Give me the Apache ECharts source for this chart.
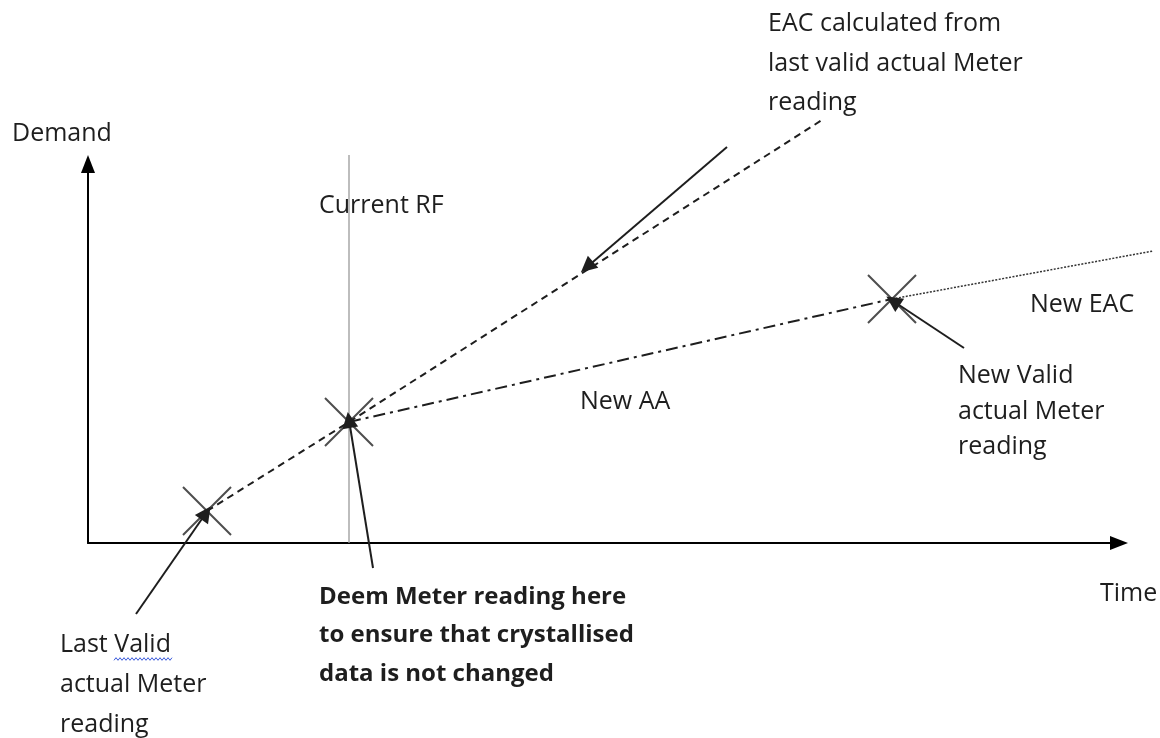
<!DOCTYPE html>
<html><head><meta charset="utf-8">
<script src="https://cdn.jsdelivr.net/npm/echarts@6/dist/echarts.min.js"></script>
<style>html,body{margin:0;padding:0;background:#fff}#c{width:1160px;height:738px}</style>
</head><body><div id="c"></div>
<script>
// ---- data (diagram units: time → right, demand → up) ----
const xMax = 1031;
const yMax = 379;
const readingPoints = [[119, 32], [261, 121], [804, 244]];
const eacLine = [[119, 32], [261, 121], [734, 423]];
const newAALine = [[261, 121], [804, 244]];
const newEACLine = [[804, 244], [1065, 292]];
const currentRFLine = [[261, 0], [261, 388]];
const pointerEAC = [[639, 396], [499, 276]];
const pointerNewValid = [[876, 195], [805, 242]];
const pointerDeem = [[285, -25], [261, 123]];
const pointerLastValid = [[48, -71], [118, 30]];

// ---- texts ----
const textDemand = ['Demand'];
const textTime = ['Time'];
const textCurrentRF = ['Current RF'];
const textEAC = ['EAC calculated from', 'last valid actual Meter', 'reading'];
const textNewEAC = ['New EAC'];
const textNewAA = ['New AA'];
const textNewValid = ['New Valid', 'actual Meter', 'reading'];
const textDeem = ['Deem Meter reading here', 'to ensure that crystallised', 'data is not changed'];
const textLastValid = ['Last Valid', 'actual Meter', 'reading'];

const FONT = '"Open Sans", Lato, sans-serif';
function block(lines, x, baseline, step, bold) {
  const fs = bold ? 24 : 25;
  return lines.map((t, i) => ({
    type: 'text', x: x, y: baseline + i * step - 8, silent: true,
    style: { text: t, fill: '#1e1e1e', font: (bold ? 'bold ' : '') + fs + 'px ' + FONT,
             verticalAlign: 'middle', align: 'left' }
  }));
}
function wavy(x0, x1, y) {
  const pts = [];
  for (let x = x0, k = 0; x <= x1; x += 2, k++) pts.push([x, y + (k % 2 ? -1.3 : 1.3)]);
  return { type: 'polyline', silent: true, shape: { points: pts }, style: { stroke: '#3b5bdb', lineWidth: 1, fill: null } };
}

const graphics = [].concat(
  block(textDemand, 12, 142, 0),
  block(textTime, 1100, 602, 0),
  block(textCurrentRF, 319, 214, 0),
  block(textEAC, 768, 32, 39.5),
  block(textNewEAC, 1030, 313, 0),
  block(textNewAA, 580, 410, 0),
  block(textNewValid, 958, 384, 35.5),
  block(textDeem, 319, 605, 38.5, true),
  block(textLastValid, 60, 653, 40),
  [wavy(114, 172, 659)]
);

const pathSeries = (d, style) => ({
  type: 'lines', coordinateSystem: 'cartesian2d', clip: false, silent: true, polyline: true,
  symbol: 'none', lineStyle: Object.assign({ opacity: 1 }, style),
  data: [{ coords: d }]
});
const pointerSeries = (d) => ({
  type: 'lines', coordinateSystem: 'cartesian2d', clip: false, silent: true, z: 5,
  symbol: ['none', 'triangle'], symbolSize: [13, 16], symbolOffset: [0, [0, 7]],
  lineStyle: { color: '#1e1e1e', width: 2, opacity: 1 },
  data: [{ coords: d }]
});

const option = {
  animation: false,
  backgroundColor: '#fff',
  grid: { left: 88, right: 41, top: 164, bottom: 195 },
  xAxis: {
    type: 'value', min: 0, max: xMax,
    axisLine: { show: true, onZero: false, symbol: ['none', 'triangle'], symbolSize: [14, 18],
                lineStyle: { color: '#000', width: 2 } },
    axisTick: { show: false }, axisLabel: { show: false }, splitLine: { show: false }
  },
  yAxis: {
    type: 'value', min: 0, max: yMax,
    axisLine: { show: true, onZero: false, symbol: ['none', 'triangle'], symbolSize: [14, 18],
                lineStyle: { color: '#000', width: 2 } },
    axisTick: { show: false }, axisLabel: { show: false }, splitLine: { show: false }
  },
  series: [
    pathSeries(currentRFLine, { color: '#9a9a9a', width: 1.3 }),
    pathSeries(eacLine, { color: '#1e1e1e', width: 2, type: [7, 5] }),
    pathSeries(newAALine, { color: '#1e1e1e', width: 2, type: [12, 5, 3, 5] }),
    pathSeries(newEACLine, { color: '#333', width: 1.5, type: [2, 1.5] }),
    { type: 'scatter', data: readingPoints, symbol: 'path://M0,0L48,48M0,48L48,0', symbolSize: 48,
      silent: true, z: 4, itemStyle: { color: 'none', borderColor: '#222', borderWidth: 2 } },
    pointerSeries(pointerEAC),
    pointerSeries(pointerNewValid),
    pointerSeries(pointerDeem),
    pointerSeries(pointerLastValid)
  ],
  graphic: graphics
};
echarts.init(document.getElementById('c')).setOption(option);
</script></body></html>
